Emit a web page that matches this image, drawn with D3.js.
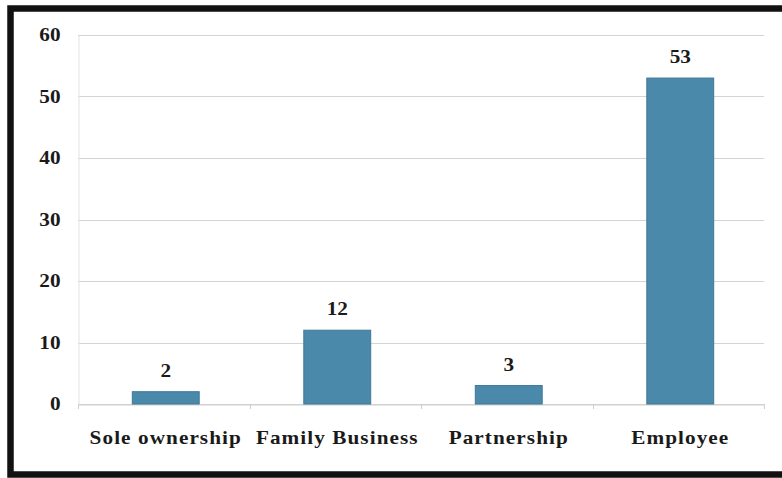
<!DOCTYPE html>
<html>
<head>
<meta charset="utf-8">
<script src="https://cdn.jsdelivr.net/npm/d3@7"></script>
<style>
  html, body { margin: 0; padding: 0; background: #fff; overflow: hidden; }
  svg { display: block; }
  text { font-family: "Liberation Serif", "Times New Roman", serif; font-weight: bold; fill: #1a1a1a; }
</style>
</head>
<body>
<svg id="chart" width="782" height="478"></svg>
<script>
// Occupation categories and respondent counts
const categories = ["Sole ownership", "Family Business", "Partnership", "Employee"];
const counts = [2, 12, 3, 53];
const yTicks = [0, 10, 20, 30, 40, 50, 60];

const svg = d3.select("#chart");
const W = 782, H = 478;
const plot = { left: 78, right: 764, top: 35, bottom: 404 };
const stretch = 1.18; // wide bold serif lettering

// outer frame (runs past the right edge of the page)
svg.append("rect")
  .attr("x", 10.5).attr("y", 8.5)
  .attr("width", W + 20).attr("height", H - 12)
  .attr("fill", "#fff")
  .attr("stroke", "#111").attr("stroke-width", 6.5);

const x = d3.scaleBand()
  .domain(categories)
  .range([plot.left, plot.right])
  .paddingInner(0).paddingOuter(0);

const y = d3.scaleLinear()
  .domain([0, 60])
  .range([plot.bottom, plot.top]);

// horizontal gridlines
svg.append("g")
  .selectAll("line")
  .data(yTicks)
  .join("line")
  .attr("x1", plot.left).attr("x2", plot.right)
  .attr("y1", d => Math.round(y(d)) + 0.5).attr("y2", d => Math.round(y(d)) + 0.5)
  .attr("stroke", "#d4d4d4").attr("stroke-width", 1);

// y axis
const yAxis = svg.append("g")
  .attr("transform", `translate(${plot.left + 0.5},0)`)
  .call(d3.axisLeft(y).tickValues(yTicks).tickSize(0).tickPadding(0));
yAxis.select(".domain").attr("stroke", "#e2e2e2");
yAxis.selectAll("text")
  .style("font-size", "18px").attr("fill", "#1a1a1a")
  .attr("x", null)
  .attr("transform", `translate(-18,0) scale(${stretch},1)`);

// x axis with ticks at category boundaries
const xAxis = svg.append("g")
  .attr("transform", `translate(0,${Math.round(plot.bottom) + 0.5})`)
  .call(d3.axisBottom(x).tickSize(0).tickPadding(27));
xAxis.select(".domain").attr("stroke", "#cfcfcf");
xAxis.selectAll("text")
  .style("font-size", "18px").style("letter-spacing", "0.9px").attr("fill", "#1a1a1a")
  .attr("transform", `translate(2,0) scale(${stretch},1)`);

const bounds = categories.map(c => x(c)).concat([x(categories[categories.length - 1]) + x.bandwidth()]);
svg.append("g")
  .selectAll("line")
  .data(bounds)
  .join("line")
  .attr("x1", d => Math.round(d) + 0.5).attr("x2", d => Math.round(d) + 0.5)
  .attr("y1", plot.bottom).attr("y2", plot.bottom + 5)
  .attr("stroke", "#cfcfcf");

// bars
const barW = x.bandwidth() * 0.39;
svg.append("g")
  .selectAll("rect")
  .data(categories)
  .join("rect")
  .attr("x", (c) => x(c) + (x.bandwidth() - barW) / 2 + 2)
  .attr("y", (c, i) => y(counts[i]))
  .attr("width", barW)
  .attr("height", (c, i) => y(0) - y(counts[i]))
  .attr("fill", "#4b89aa")
  .attr("stroke", "#3f7896").attr("stroke-width", 1);

// value labels
svg.append("g")
  .selectAll("text")
  .data(categories)
  .join("text")
  .attr("transform", (c, i) => `translate(${x(c) + x.bandwidth() / 2 + 2},${y(counts[i]) - 15}) scale(${stretch},1)`)
  .attr("text-anchor", "middle")
  .style("font-size", "18px")
  .text((c, i) => counts[i]);
</script>
</body>
</html>
